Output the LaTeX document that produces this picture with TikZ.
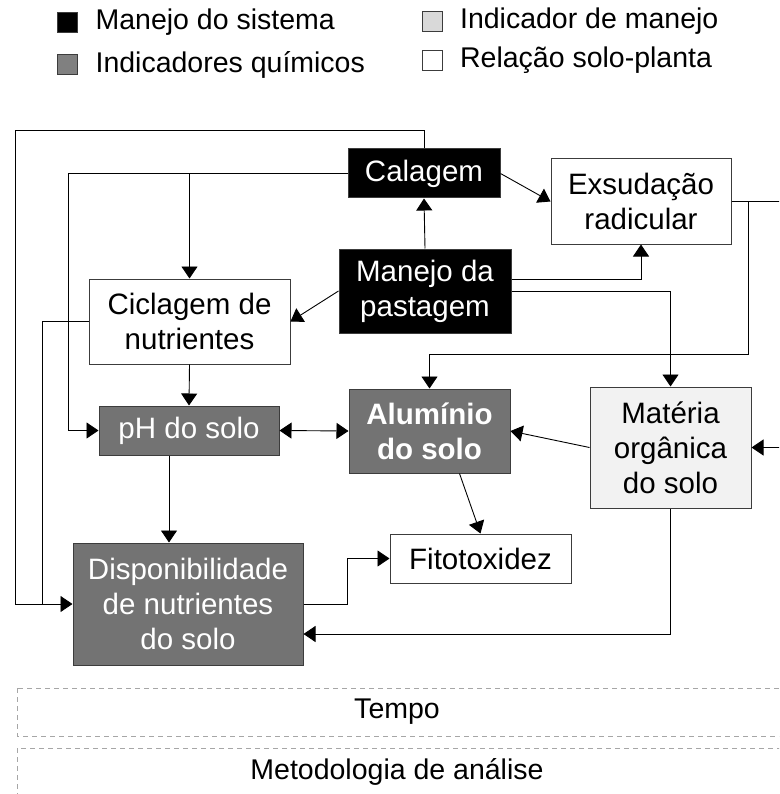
\documentclass[tikz,border=0pt]{standalone}
\usepackage{fontspec}
\setmainfont{Liberation Sans}
\usetikzlibrary{arrows.meta, positioning}
\newcommand{\boxfont}{\fontsize{29.5}{35}\selectfont}
\newcommand{\keyfont}{\fontsize{28.5}{34}\selectfont}
\definecolor{edge}{HTML}{3C3C3C}
\definecolor{chemgray}{HTML}{737373}
\definecolor{chemkey}{HTML}{808080}
\definecolor{mgmtkey}{HTML}{D9D9D9}
\definecolor{organic}{HTML}{F2F2F2}
\definecolor{faint}{HTML}{A6A6A6}

\begin{document}
\begin{tikzpicture}[
  x=1pt, y=-1pt,
  font=\boxfont,
  box/.style={draw=edge, line width=1pt, align=center, inner sep=0pt},
  sysbox/.style={box, fill=black, text=white},
  chembox/.style={box, fill=chemgray, text=white},
  soilbox/.style={box, fill=organic},
  plantbox/.style={box, fill=white},
  key/.style={draw=edge, line width=0.8pt, minimum size=20pt, inner sep=0pt},
  keytxt/.style={inner sep=0pt, font=\keyfont},
  arr/.style={-{Triangle[length=12pt, width=16pt]}, line width=0.9pt},
  arrboth/.style={{Triangle[length=12pt, width=16pt]}-{Triangle[length=12pt, width=16pt]}, line width=0.9pt},
  band/.style={draw=faint, dash pattern=on 5pt off 4pt, line width=0.9pt}
]
  \useasboundingbox (0,0) rectangle (779,794);
  \clip (0,0) rectangle (779,794);

  % legend
  \node[key, fill=black] (k1) at (67,22) {};
  \node[keytxt, right=18pt of k1] (t1) {Manejo do sistema};
  \node[key, fill=chemkey] (k2) at (67,64.5) {};
  \node[keytxt, right=18pt of k2] (t2) {Indicadores químicos};
  \node[key, fill=mgmtkey] (k3) at (432.5,21.5) {};
  \node[keytxt, right=17pt of k3] (t3) {Indicador de manejo};
  \node[key, fill=white] (k4) at (432.5,60.5) {};
  \node[keytxt, right=17pt of k4] (t4) {Relação solo-planta};

  % boxes
  \node[sysbox, minimum width=152pt, minimum height=49pt] (cal) at (424,173.5) {Calagem};
  \node[sysbox, minimum width=172pt, minimum height=84pt] (man) at (425,291) {Manejo da\\pastagem};
  \node[plantbox, minimum width=180pt, minimum height=85pt] (exs) at (641,201.5) {Exsudação\\radicular};
  \node[plantbox, minimum width=201pt, minimum height=85pt] (cic) at (189.5,321.5) {Ciclagem de\\nutrientes};
  \node[chembox, minimum width=180pt, minimum height=49pt] (ph) at (189,430.5) {pH do solo};
  \node[chembox, minimum width=161pt, minimum height=84pt, font=\boxfont\bfseries] (alu) at (429.5,431) {Alumínio\\do solo};
  \node[soilbox, minimum width=161pt, minimum height=121pt] (mat) at (670.5,447.5) {Matéria\\orgânica\\do solo};
  \node[chembox, minimum width=230pt, minimum height=122pt] (dis) at (188,604) {Disponibilidade\\de nutrientes\\do solo};
  \node[plantbox, minimum width=181pt, minimum height=49pt] (fit) at (480.5,558.5) {Fitotoxidez};

  % connectors
  \draw[arr] (cal.north) |- (15,130) |- (dis.west);
  \draw[arr] (cal.west) -| ([xshift=-30pt]ph.west) -- (ph.west);
  \draw[arr] (cic.north |- cal.west) -- (cic.north);
  \draw[arr] (man.north) -- (cal.south);
  \draw[arr] (man.west) -- (cic.east);
  \draw[arr] (cal.east) -- (exs.west);
  \draw[arr] ([yshift=12pt]man.east) -| (exs.south);
  \draw[arr] (man.east) -| (mat.north);
  \draw[arr] (exs.east) -| (748,354) -| (alu.north);
  \draw[arr] (exs.east) -| ([xshift=44pt]mat.east) -- (mat.east);
  \draw[line width=0.9pt] (cic.west) -| ([xshift=-30pt]dis.west);
  \draw[arr] (cic.south) -- (ph.north);
  \draw[arrboth] (ph.east) -- (alu.west);
  \draw[arr] ([xshift=-20pt]ph.south) -- ([xshift=-20pt]ph.south |- dis.north);
  \draw[arr] (dis.east) -- ++(44,0) |- (fit.west);
  \draw[arr] (mat.west) -- (alu.east);
  \draw[arr] ([xshift=30pt]alu.south) -- (fit.north);
  \draw[arr] (mat.south) |- ([yshift=-30pt]dis.east);

  % bands
  \draw[band] (17,688) rectangle (800,736);
  \node[font=\keyfont] (tempo) at (397,712) {Tempo};
  \draw[band] (17,748) rectangle (800,820);
  \node[font=\keyfont] (metodo) at (397,772) {Metodologia de análise};
\end{tikzpicture}
\end{document}
